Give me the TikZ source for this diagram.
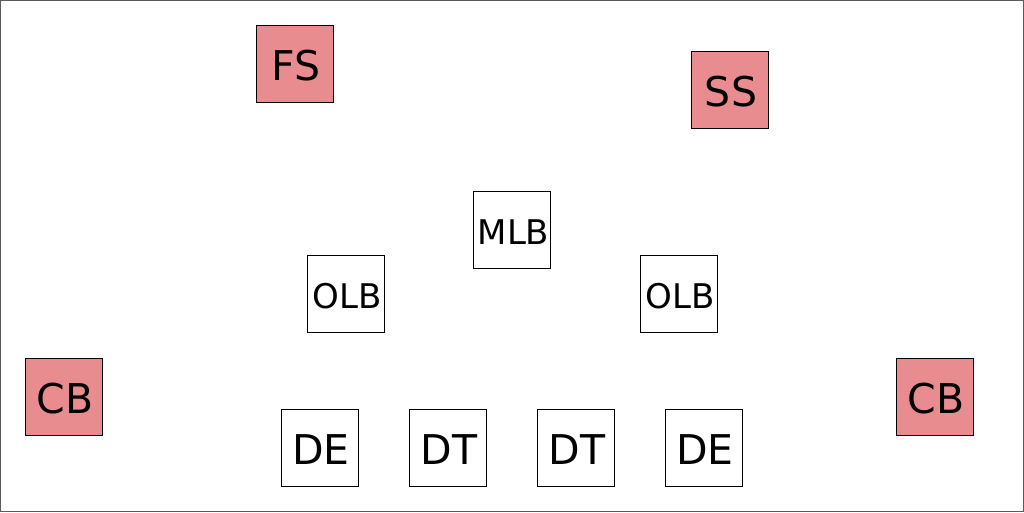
\documentclass[tikz,border=0pt]{standalone}
\usepackage{fontspec}
\setmainfont{DejaVu Sans}
\definecolor{dback}{RGB}{233,140,143}
\definecolor{frame}{RGB}{90,90,90}
\begin{document}
\begin{tikzpicture}[x=1pt,y=-1pt,
  player/.style={draw=black,line width=1pt,minimum width=77pt,minimum height=77pt,inner sep=0pt},
  back/.style={player,fill=dback},
  bigtxt/.style={inner sep=0pt,font=\fontsize{41}{41}\selectfont,xshift=1.5pt,yshift=-2pt},
  lbtxt/.style={inner sep=0pt,font=\fontsize{34}{34}\selectfont,xshift=2pt,yshift=-2pt}]
\useasboundingbox (0,0) rectangle (1024,512);
\draw[frame,line width=1pt] (0.5,0.5) rectangle (1023.5,511.5);
\node[back] (fs) at (294.5,63.75) {};
\node[back] (ss) at (729.5,89.5) {};
\node[player] (mlb) at (511.5,230) {};
\node[player] (olbl) at (345.5,294) {};
\node[player] (olbr) at (678.5,294) {};
\node[back] (cbl) at (63.5,396.5) {};
\node[back] (cbr) at (934.5,396.5) {};
\node[player] (del) at (319.5,447.5) {};
\node[player] (dtl) at (447.5,447.5) {};
\node[player] (dtr) at (575.5,447.5) {};
\node[player] (der) at (703.5,447.5) {};
\node[bigtxt] (tfs) at (fs.center) {FS};
\node[bigtxt] (tss) at (ss.center) {SS};
\node[lbtxt] (tmlb) at (mlb.center) {MLB};
\node[lbtxt] (tolbl) at (olbl.center) {OLB};
\node[lbtxt] (tolbr) at (olbr.center) {OLB};
\node[bigtxt] (tcbl) at (cbl.center) {CB};
\node[bigtxt] (tcbr) at (cbr.center) {CB};
\node[bigtxt] (tdel) at (del.center) {DE};
\node[bigtxt] (tdtl) at (dtl.center) {DT};
\node[bigtxt] (tdtr) at (dtr.center) {DT};
\node[bigtxt] (tder) at (der.center) {DE};
\end{tikzpicture}
\end{document}
